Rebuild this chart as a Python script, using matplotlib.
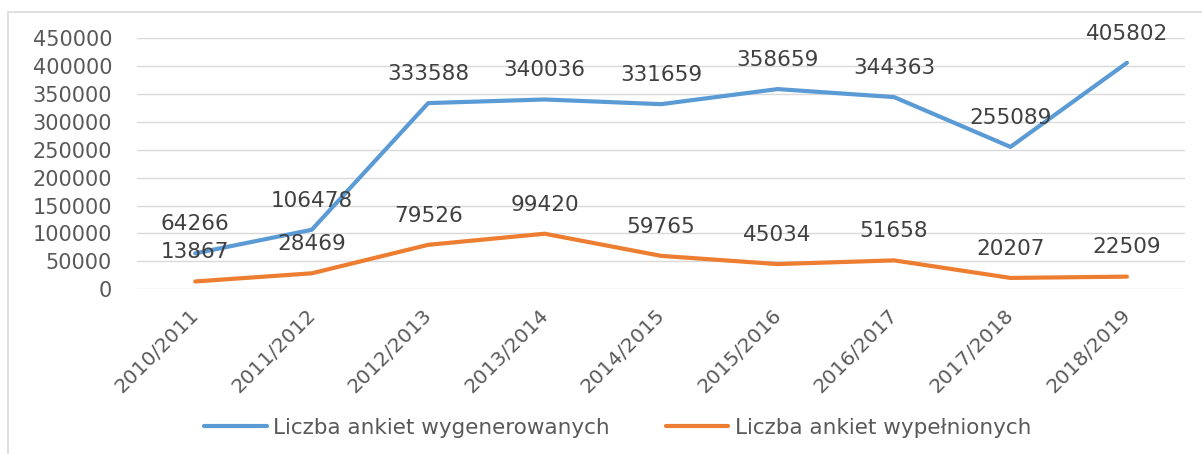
import matplotlib.pyplot as plt
from matplotlib.patches import Rectangle
from matplotlib.transforms import ScaledTranslation

# dane z wykresu
lata = ["2010/2011", "2011/2012", "2012/2013", "2013/2014", "2014/2015",
        "2015/2016", "2016/2017", "2017/2018", "2018/2019"]
wygenerowane = [64266, 106478, 333588, 340036, 331659, 358659, 344363, 255089, 405802]
wypelnione = [13867, 28469, 79526, 99420, 59765, 45034, 51658, 20207, 22509]
y_ticks = [0, 50000, 100000, 150000, 200000, 250000, 300000, 350000, 400000, 450000]

plt.rcParams['font.family'] = ['DejaVu Sans']

fig = plt.figure(figsize=(12.02, 4.54), dpi=100)
ax = fig.add_axes([0.114, 0.363, 0.872, 0.553])

x = list(range(len(lata)))
ax.plot(x, wygenerowane, color='#5b9bd5', lw=3, solid_capstyle='round',
        label='Liczba ankiet wygenerowanych')
ax.plot(x, wypelnione, color='#ed7d31', lw=3, solid_capstyle='round',
        label='Liczba ankiet wypełnionych')

# etykiety danych nad punktami
for xi, v in zip(x, wygenerowane):
    ax.annotate(str(v), (xi, v), xytext=(0, 21), textcoords='offset points',
                ha='center', va='center', fontsize=15.5, color='#404040')
for xi, v in zip(x, wypelnione):
    ax.annotate(str(v), (xi, v), xytext=(0, 21), textcoords='offset points',
                ha='center', va='center', fontsize=15.5, color='#404040')

ax.set_xlim(-0.5, len(lata) - 0.5)
ax.set_ylim(0, 450000)
ax.set_yticks(y_ticks)
ax.set_yticklabels([str(t) for t in y_ticks], fontsize=15)
ax.set_xticks(x)
ax.set_xticklabels(lata, rotation=45, ha='right', rotation_mode='anchor', fontsize=14.5)
ax.tick_params(axis='both', length=0, labelcolor='#595959')
ax.tick_params(axis='y', pad=18)
ax.tick_params(axis='x', pad=12)
# lekkie przesunięcie etykiet osi x w lewo
shift = ScaledTranslation(-6 / 100, 0, fig.dpi_scale_trans)
for lab in ax.get_xticklabels():
    lab.set_transform(lab.get_transform() + shift)
ax.grid(axis='y', color='#d9d9d9', lw=1)
ax.set_axisbelow(True)
for s in ax.spines.values():
    s.set_visible(False)

fig.legend(loc='center', bbox_to_anchor=(0.514, 0.058), ncol=2, frameon=False,
           fontsize=15.5, handlelength=2.9, handletextpad=0.3, columnspacing=2.6,
           labelcolor='#595959')

# ramka wykresu
fig.patches.append(Rectangle((8 / 1202, -0.1), 1.2, 0.1 + (454 - 12) / 454,
                             transform=fig.transFigure, fill=False,
                             edgecolor='#d9d9d9', lw=1.2))

fig.savefig('out.png', dpi=100)
